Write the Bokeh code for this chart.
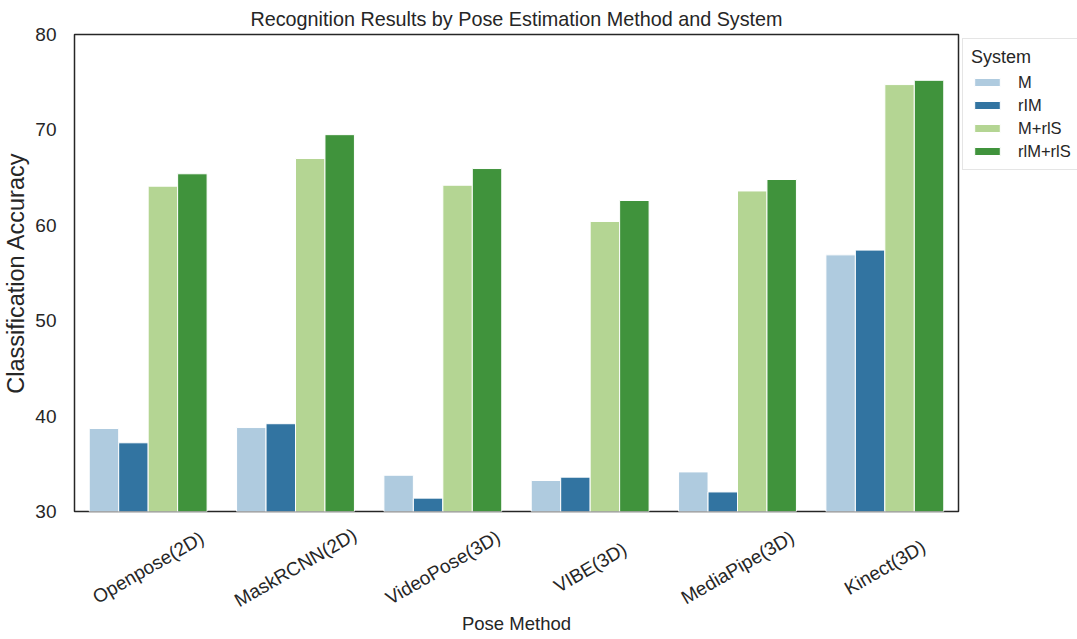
import math
from bokeh.plotting import figure
from bokeh.layouts import column
from bokeh.core.properties import value
from bokeh.models import ColumnDataSource, FactorRange, Legend, LegendItem, Range1d, FixedTicker, Title
from bokeh.transform import dodge
from bokeh.embed import file_html
from bokeh.resources import INLINE

methods = ["Openpose(2D)", "MaskRCNN(2D)", "VideoPose(3D)", "VIBE(3D)", "MediaPipe(3D)", "Kinect(3D)"]
systems = ["M", "rIM", "M+rlS", "rlM+rlS"]
m_vals = [38.7, 38.8, 33.8, 33.25, 34.15, 56.9]
rim_vals = [37.2, 39.2, 31.4, 33.6, 32.05, 57.4]
mrls_vals = [64.1, 67.0, 64.2, 60.4, 63.6, 74.75]
rlmrls_vals = [65.4, 69.5, 65.95, 62.6, 64.8, 75.2]
colors = ["#afcbdf", "#3274a1", "#b4d593", "#40933c"]

src = ColumnDataSource(dict(method=methods, M=m_vals, rIM=rim_vals, MrlS=mrls_vals, rlMrlS=rlmrls_vals))
cols = ["M", "rIM", "MrlS", "rlMrlS"]

FONT = "Liberation Sans"
TXT = "#262626"
LEFT = 66

p = figure(x_range=FactorRange(*methods), y_range=Range1d(30, 80),
           frame_width=884, frame_height=477, output_backend="svg", toolbar_location=None,
           title="Recognition Results by Pose Estimation Method and System",
           x_axis_location=None,
           min_border_left=LEFT, min_border_top=27, min_border_bottom=12, min_border_right=0)
p.x_range.factor_padding = 0.0
p.x_range.range_padding = 0.0

offsets = [-0.3, -0.1, 0.1, 0.3]
renderers = []
for c, off, col in zip(cols, offsets, colors):
    r = p.vbar(x=dodge("method", off, range=p.x_range), top=c, bottom=30, width=0.2, source=src,
               fill_color=col, line_color="white", line_width=1)
    renderers.append(r)

legend = Legend(items=[LegendItem(label=s, renderers=[r]) for s, r in zip(systems, renderers)],
                title="System", location="top_left")
legend.title_text_font = FONT
legend.title_text_font_size = "18px"
legend.title_text_color = TXT
legend.title_text_font_style = "normal"
legend.title_standoff = 4
legend.label_text_font = FONT
legend.label_text_font_size = "16.5px"
legend.label_text_color = TXT
legend.label_standoff = 15
legend.label_height = 20
legend.glyph_width = 32
legend.glyph_height = 10
legend.spacing = 3
legend.padding = 8
legend.margin = 4
legend.border_line_color = "#cccccc"
legend.border_line_width = 1
legend.background_fill_alpha = 1
p.add_layout(legend, "right")

p.title.text_font = FONT
p.title.text_font_size = "19.8px"
p.title.text_font_style = "normal"
p.title.text_color = TXT
p.title.align = "center"
p.title.standoff = 10

p.grid.visible = False
p.outline_line_color = TXT
p.outline_line_width = 1.5
p.outline_line_alpha = 1
p.background_fill_color = "white"

p.yaxis.ticker = FixedTicker(ticks=[30, 40, 50, 60, 70, 80])
p.yaxis.axis_label = "Classification Accuracy"
p.yaxis.axis_line_color = None
p.yaxis.major_tick_line_color = None
p.yaxis.minor_tick_line_color = None
p.yaxis.major_label_text_font = FONT
p.yaxis.major_label_text_color = TXT
p.yaxis.major_label_text_font_size = "19px"
p.yaxis.axis_label_text_font = FONT
p.yaxis.axis_label_text_color = TXT
p.yaxis.axis_label_text_font_style = "normal"
p.yaxis.axis_label_text_font_size = "23.5px"
p.yaxis.major_label_standoff = 12
p.yaxis.axis_label_standoff = 3

# lower strip: centred rotated category labels + x-axis title
label_depth = [44] * len(methods)
p2 = figure(x_range=p.x_range, y_range=Range1d(86, 0), frame_width=884, frame_height=86,
            output_backend="svg", toolbar_location=None,
            x_axis_location=None, y_axis_location=None,
            min_border_left=LEFT, min_border_top=0, min_border_bottom=0, min_border_right=0)
p2.text(x=methods, y=label_depth, text=methods, angle=math.pi / 6,
        text_align="center", text_baseline="middle", text_font=value(FONT),
        text_font_size="19px", text_color=TXT)
p2.grid.visible = False
p2.outline_line_color = None
p2.add_layout(Title(text="Pose Method", align="center", text_font=FONT, text_font_size="18.5px",
                    text_font_style="normal", text_color=TXT, standoff=2), "below")

layout = column(p, p2, spacing=0)
open("out.html", "w").write(file_html(layout, INLINE))
